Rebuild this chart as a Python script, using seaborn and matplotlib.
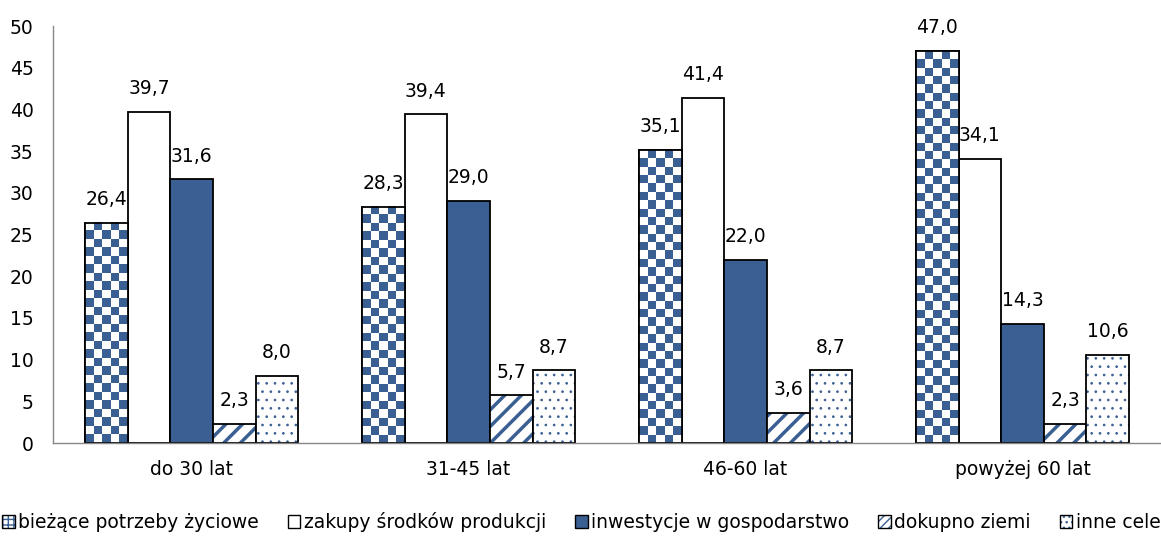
import numpy as np
import pandas as pd
import seaborn as sns
import matplotlib.pyplot as plt
from matplotlib.colors import ListedColormap, to_rgba
from matplotlib.patches import Patch, Rectangle

# dane
groups = ["do 30 lat", "31-45 lat", "46-60 lat", "powyżej 60 lat"]
series = ["bieżące potrzeby życiowe", "zakupy środków produkcji",
          "inwestycje w gospodarstwo", "dokupno ziemi", "inne cele"]
biezace = [26.4, 28.3, 35.1, 47.0]
zakupy = [39.7, 39.4, 41.4, 34.1]
inwestycje = [31.6, 29.0, 22.0, 14.3]
dokupno = [2.3, 5.7, 3.6, 2.3]
inne = [8.0, 8.7, 8.7, 10.6]

blue = "#3A5F92"

df = pd.DataFrame({
    "grupa": groups * 5,
    "cel": np.repeat(series, len(groups)),
    "proc": biezace + zakupy + inwestycje + dokupno + inne,
})

sns.set_style("white")
plt.rcParams["font.family"] = ["DejaVu Sans"]
plt.rcParams["text.color"] = "black"
plt.rcParams["xtick.color"] = "black"
plt.rcParams["ytick.color"] = "black"
plt.rcParams["hatch.linewidth"] = 2.5

fig = plt.figure(figsize=(11.61, 5.37), dpi=100)
ax = fig.add_axes([0.0457, 0.175, 0.9543, 0.7765])

sns.barplot(data=df, x="grupa", y="proc", hue="cel", order=groups,
            hue_order=series, width=0.77, saturation=1,
            palette=["white", "white", blue, "white", "white"],
            edgecolor="black", linewidth=1.3, legend=False, ax=ax)

ax.set_xlim(-0.5, 3.5)
ax.set_ylim(0, 50)
ax.set_yticks(range(0, 51, 5))
ax.set_xlabel("")
ax.set_ylabel("")
ax.tick_params(axis="both", length=0, labelsize=13.5)
ax.tick_params(axis="x", pad=12)
ax.tick_params(axis="y", pad=14)
for s in ["top", "right"]:
    ax.spines[s].set_visible(False)
for s in ["left", "bottom"]:
    ax.spines[s].set_color("#888888")
    ax.spines[s].set_linewidth(1)

# szachownica dla pierwszej serii
cmap = ListedColormap(["white", blue])
cell = 8.4
for bar in ax.containers[0]:
    x0, w, h = bar.get_x(), bar.get_width(), bar.get_height()
    p0 = ax.transData.transform((x0, 0))
    p1 = ax.transData.transform((x0 + w, h))
    ncol = max(1, round((p1[0] - p0[0]) / cell))
    nrow = max(1, round((p1[1] - p0[1]) / cell))
    board = np.indices((nrow, ncol)).sum(axis=0) % 2
    ax.imshow(board, cmap=cmap, extent=(x0, x0 + w, 0, h), aspect="auto",
              interpolation="nearest", origin="upper", zorder=bar.get_zorder() + 0.1)
    ax.add_patch(Rectangle((x0, 0), w, h, fill=False, edgecolor="black",
                           linewidth=1.3, zorder=bar.get_zorder() + 0.2))

ax.set_xlim(-0.5, 3.5)
ax.set_ylim(0, 50)

# kreskowanie i kropki
for bar in ax.containers[3]:
    bar.set_hatch("//")
    bar._hatch_color = to_rgba(blue)
for bar in ax.containers[4]:
    bar.set_hatch("..")
    bar._hatch_color = to_rgba(blue)
    if hasattr(bar, "set_hatch_linewidth"):
        bar.set_hatch_linewidth(0.7)

for cont in ax.containers:
    ax.bar_label(cont, labels=[f"{v:.1f}".replace(".", ",") for v in cont.datavalues],
                 padding=10, fontsize=13.5)

handles = [
    Patch(facecolor="white", edgecolor="black", hatch="+++"),
    Patch(facecolor="white", edgecolor="black"),
    Patch(facecolor=blue, edgecolor="black"),
    Patch(facecolor="white", edgecolor="black", hatch="////"),
    Patch(facecolor="white", edgecolor="black", hatch="..."),
]
leg = fig.legend(handles, series, loc="center left", bbox_to_anchor=(0.002, 0.028),
                 ncol=5, frameon=False, fontsize=13.5, handlelength=0.65,
                 handleheight=0.65, handletextpad=0.2, columnspacing=1.55,
                 borderaxespad=0, borderpad=0)
for p in leg.get_patches():
    p._hatch_color = to_rgba(blue)
    if hasattr(p, "set_hatch_linewidth"):
        p.set_hatch_linewidth(1.0)

fig.savefig("out.png", dpi=100)
